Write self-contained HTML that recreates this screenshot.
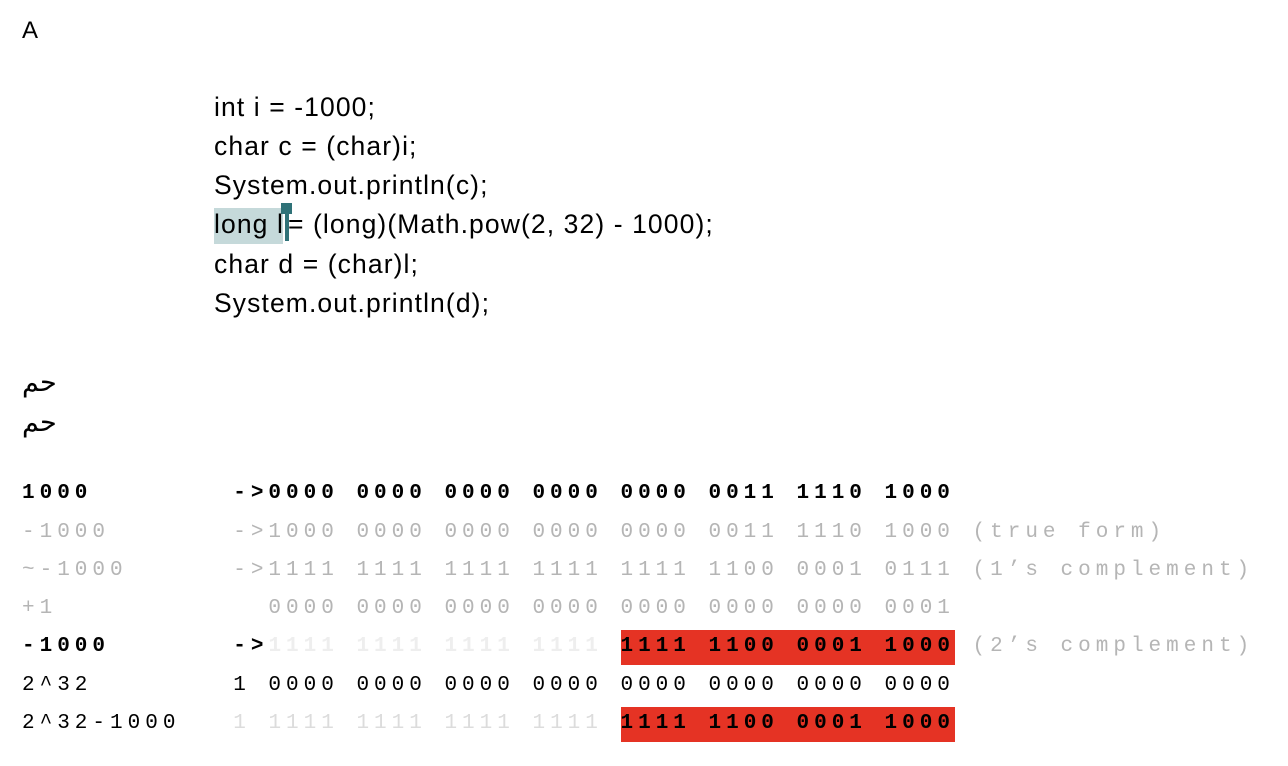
<!DOCTYPE html>
<html><head><meta charset="utf-8"><style>
body{margin:0;width:1288px;height:766px;background:#fff;position:relative;overflow:hidden}
.a{position:absolute;white-space:pre}
.s{font-family:"Liberation Sans",sans-serif;font-size:26.5px;letter-spacing:1.1px;color:#000;line-height:30px}
.m{font-family:"Liberation Mono",monospace;font-size:21px;letter-spacing:5px;line-height:30px;left:22px}
.b{font-weight:bold}
.g{color:#b5b5b5}
.l{color:#eeeeee}
.d{color:#dcdcdc}
.k{color:#000}
.r{position:absolute;background:#e53324}
</style></head><body>
<div class="a s" style="left:22px;top:16px;letter-spacing:0;font-size:24px">A</div>
<div class="a" style="left:214px;top:208px;width:69px;height:36px;background:#c5d9da"></div>
<div class="a" style="left:281px;top:203px;width:11px;height:11px;background:#2f7278"></div>
<div class="a" style="left:285px;top:203px;width:4px;height:38px;background:#2f7278"></div>
<div class="a s" style="left:214px;top:92px">int i = -1000;</div>
<div class="a s" style="left:214px;top:131px">char c = (char)i;</div>
<div class="a s" style="left:214px;top:170px">System.out.println(c);</div>
<div class="a s" style="left:214px;top:209px">long l<span style="display:inline-block;width:4px"></span>= (long)(Math.pow(2, 32) - 1000);</div>
<div class="a s" style="left:214px;top:249px">char d = (char)l;</div>
<div class="a s" style="left:214px;top:288px">System.out.println(d);</div>
<div class="a" style="left:22px;top:368px;font-family:'DejaVu Sans',sans-serif;font-size:27px;line-height:30px">حم</div>
<div class="a" style="left:22px;top:408px;font-family:'DejaVu Sans',sans-serif;font-size:27px;line-height:30px">حم</div>
<div class="r" style="left:621px;top:630px;width:334px;height:35px"></div>
<div class="r" style="left:621px;top:707px;width:334px;height:35px"></div>
<div class="a m b" style="top:479px">1000        -&gt;0000 0000 0000 0000 0000 0011 1110 1000</div>
<div class="a m g" style="top:518px">-1000       -&gt;1000 0000 0000 0000 0000 0011 1110 1000 (true form)</div>
<div class="a m g" style="top:556px">~-1000      -&gt;1111 1111 1111 1111 1111 1100 0001 0111 (1’s complement)</div>
<div class="a m g" style="top:594px">+1            0000 0000 0000 0000 0000 0000 0000 0001</div>
<div class="a m" style="top:632px"><span class="b">-1000       -&gt;</span><span class="b l">1111 1111 1111 1111 </span><span class="b">1111 1100 0001 1000</span><span class="g"> (2’s complement)</span></div>
<div class="a m" style="top:671px">2^32        1 0000 0000 0000 0000 0000 0000 0000 0000</div>
<div class="a m" style="top:709px"><span>2^32-1000   </span><span class="d">1 1111 1111 1111 1111 </span><span class="b">1111 1100 0001 1000</span></div>
</body></html>
